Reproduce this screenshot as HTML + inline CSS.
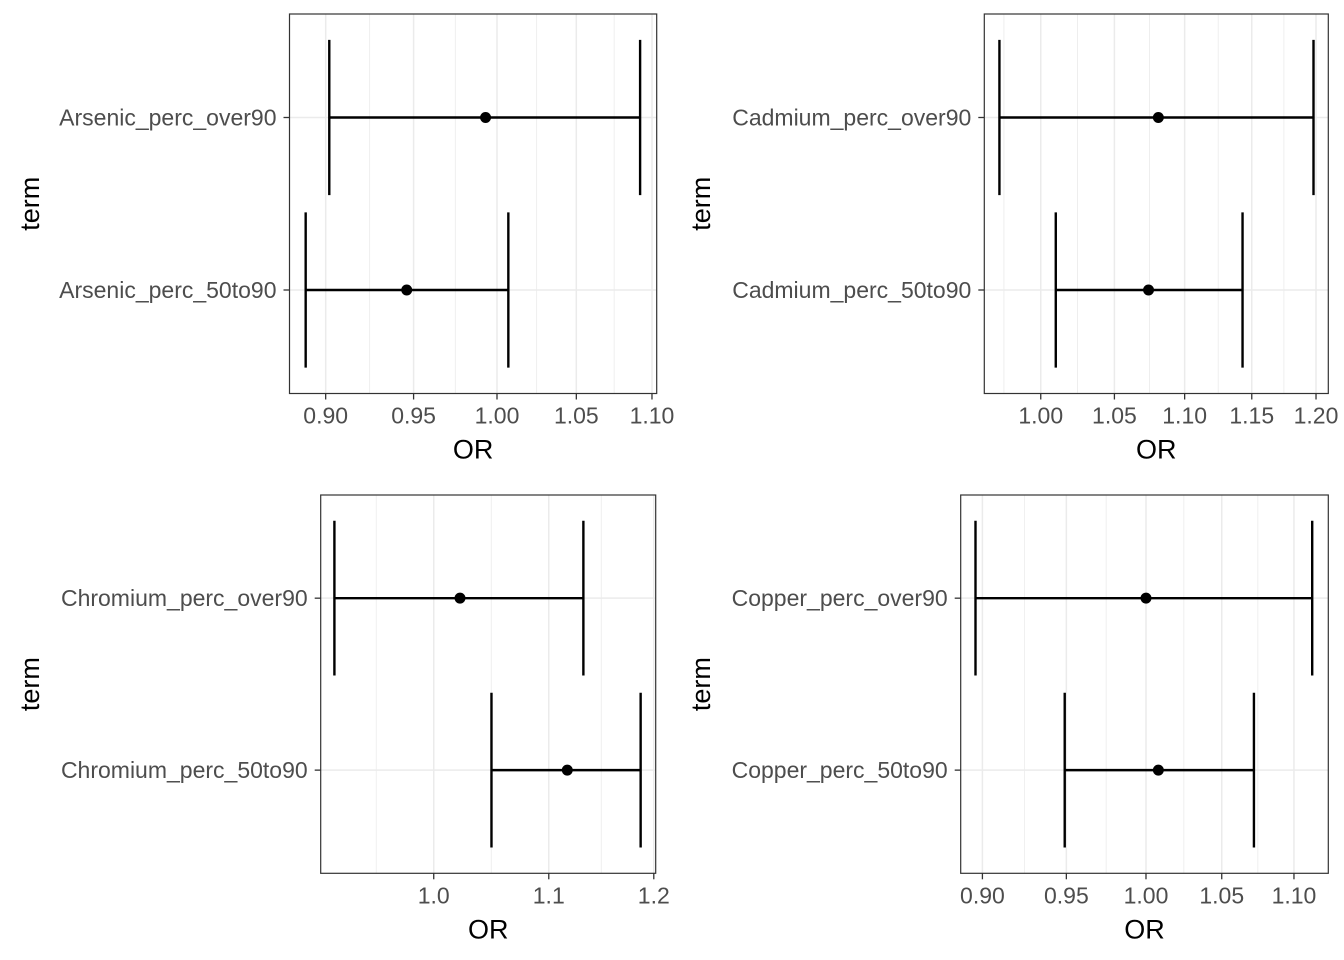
<!DOCTYPE html>
<html><head><meta charset="utf-8"><style>
html,body{margin:0;padding:0;background:#fff;}
svg{display:block;font-family:"Liberation Sans",Arial,sans-serif;}
</style></head><body>
<svg id="chart" width="1344" height="960" viewBox="0 0 1344 960"></svg>
<script>
const panelTerms = [
  ["Arsenic_perc_over90","Arsenic_perc_50to90"],
  ["Cadmium_perc_over90","Cadmium_perc_50to90"],
  ["Chromium_perc_over90","Chromium_perc_50to90"],
  ["Copper_perc_over90","Copper_perc_50to90"]
];
const estOR = [[0.993,0.946],[1.081,1.074],[1.022,1.117],[1.000,1.008]];
const lowCI = [[0.902,0.889],[0.973,1.010],[0.921,1.049],[0.896,0.949]];
const highCI = [[1.092,1.007],[1.198,1.143],[1.132,1.187],[1.113,1.072]];
const tickVals = [[0.90,0.95,1.00,1.05,1.10],[1.00,1.05,1.10,1.15,1.20],[1.0,1.1,1.2],[0.90,0.95,1.00,1.05,1.10]];
const tickLabels = [["0.90","0.95","1.00","1.05","1.10"],["1.00","1.05","1.10","1.15","1.20"],["1.0","1.1","1.2"],["0.90","0.95","1.00","1.05","1.10"]];
const xDomains = [[0.8802,1.1032],[0.9633,1.2098],[0.9106,1.2019],[0.8875,1.1246]];

const layout = [
  {l:289.5,r:656.7,t:14,b:393.5},
  {l:984.3,r:1328.3,t:14,b:393.5},
  {l:320.7,r:655.7,t:495,b:873.3},
  {l:960.7,r:1328.3,t:495,b:873.3}
];
const NS="http://www.w3.org/2000/svg";
const svg=document.getElementById('chart');
function mk(tag,attrs,parent){const e=document.createElementNS(NS,tag);for(const k in attrs)e.setAttribute(k,attrs[k]);(parent||svg).appendChild(e);return e;}

layout.forEach((L,p)=>{
  const g=mk('g',{});
  
  
  const d0=Math.log(xDomains[p][0]),d1=Math.log(xDomains[p][1]);
  const xs=v=>L.l+(Math.log(v)-d0)/(d1-d0)*(L.r-L.l);
  const step=(L.b-L.t)/2.2;
  const ys=i=>L.t+step*(0.6+i);
  const clipId='clip'+p;
  const cp=mk('clipPath',{id:clipId},g);
  mk('rect',{x:L.l,y:L.t,width:L.r-L.l,height:L.b-L.t},cp);
  const grid=mk('g',{'clip-path':'url(#'+clipId+')'},g);
  
  
  const tv=tickVals[p];
  const lt=tv.map(Math.log);
  const dl=lt[1]-lt[0];
  const ext=[lt[0]-dl].concat(lt,[lt[lt.length-1]+(lt[lt.length-1]-lt[lt.length-2])]);
  for(let i=0;i<ext.length-1;i++){
    const x=xs(Math.exp((ext[i]+ext[i+1])/2));
    mk('line',{x1:x,x2:x,y1:L.t,y2:L.b,stroke:'#ebebeb','stroke-width':0.8},grid);
  }
  tv.forEach(v=>{const x=xs(v);mk('line',{x1:x,x2:x,y1:L.t,y2:L.b,stroke:'#ebebeb','stroke-width':1.5},grid);});
  [0,1].forEach(i=>{mk('line',{x1:L.l,x2:L.r,y1:ys(i),y2:ys(i),stroke:'#ebebeb','stroke-width':1.5},grid);});
  [0,1].forEach(i=>{
    const y=ys(i),h=step*0.45;
    const eg=mk('g',{stroke:'#000','stroke-width':2.4,fill:'none'},g);
    
    
    const x1=xs(lowCI[p][i]),x2=xs(highCI[p][i]);
    mk('line',{x1:x1,x2:x2,y1:y,y2:y},eg);
    mk('line',{x1:x1,x2:x1,y1:y-h,y2:y+h},eg);
    mk('line',{x1:x2,x2:x2,y1:y-h,y2:y+h},eg);
    const c=mk('circle',{cx:xs(estOR[p][i]),cy:y,r:5.5,fill:'#000'},g);
    
    
    mk('line',{x1:L.l-6,x2:L.l,y1:y,y2:y,stroke:'#333','stroke-width':1.3},g);
    const t=mk('text',{x:L.l-13,y:y+8,'text-anchor':'end','font-size':23,fill:'#4d4d4d'},g);
    t.textContent=panelTerms[p][i];
    
    
  });
  const br=mk('rect',{x:L.l,y:L.t,width:L.r-L.l,height:L.b-L.t,fill:'none',stroke:'#333','stroke-width':1.2},g);
  
  
  tv.forEach((v,k)=>{
    const x=xs(v);
    mk('line',{x1:x,x2:x,y1:L.b,y2:L.b+6,stroke:'#333','stroke-width':1.3},g);
    const t=mk('text',{x:x,y:L.b+30,'text-anchor':'middle','font-size':23,fill:'#4d4d4d'},g);
    t.textContent=tickLabels[p][k];
    
    
  });
  const xt=mk('text',{x:(L.l+L.r)/2,y:L.b+65,'text-anchor':'middle','font-size':27,fill:'#000'},g);
  xt.textContent='OR';
  
  
  const yx=(p%2===0)?39:710;
  const yc=(L.t+L.b)/2;
  const yt=mk('text',{x:yx,y:yc,'text-anchor':'middle','font-size':27,fill:'#000',transform:'rotate(-90 '+yx+' '+yc+')'},g);
  yt.textContent='term';
  
  
});
</script>
</body></html>
